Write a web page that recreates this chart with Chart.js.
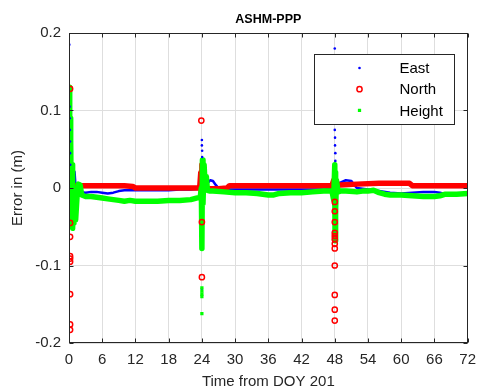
<!DOCTYPE html>
<html>
<head>
<meta charset="utf-8">
<script src="https://cdn.jsdelivr.net/npm/chart.js@4.4.1/dist/chart.umd.min.js"></script>
<style>
  html, body { margin: 0; background: #fff; }
  #wrap { width: 484px; height: 391px; }
</style>
</head>
<body>
<div id="wrap"><canvas id="c" width="484" height="391"></canvas></div>
<script>
// axis ticks
const xTicks = [0, 6, 12, 18, 24, 30, 36, 42, 48, 54, 60, 66, 72];
const yTicks = [-0.2, -0.1, 0, 0.1, 0.2];
const seriesNames = ['East', 'North', 'Height'];
const chartTitle = 'ASHM-PPP';

// [hour, error m] - dense epochs
const eastTrack = [
    [0.1, 0.005], [0.3, -0.01], [0.5, 0.01], [0.8, -0.005], [1.0, 0.021], [1.2, 0.0], [1.5, -0.003],
    [2, -0.005], [3, -0.006], [4, -0.005], [5, -0.005], [6, -0.006], [7, -0.007], [8, -0.006],
    [9, -0.004], [10, -0.003], [12, -0.003], [14, -0.003], [16, -0.003], [18, -0.003], [20, -0.002],
    [22, -0.002], [23.5, -0.001], [24, 0.0], [24.1, -0.02], [24.2, 0.01], [24.5, 0.0], [25, 0.006],
    [25.5, 0.01], [26, 0.009], [26.5, 0.004], [27, 0.0], [28, -0.002], [30, -0.002], [34, -0.002],
    [38, -0.002], [42, -0.002], [46, -0.002], [47.8, -0.001], [48, 0.0], [48.1, -0.02], [48.3, 0.005],
    [49, 0.007], [50, 0.01], [51, 0.009], [51.5, 0.004], [52, 0.0], [54, -0.002], [56, -0.004],
    [58, -0.006], [60, -0.007], [62, -0.006], [64, -0.005], [66, -0.005], [67, -0.006], [68, -0.008],
    [70, -0.008], [72, -0.008],
];
const northTrack = [
    [0.0, 0.0], [0.1, -0.03], [0.2, 0.01], [0.3, -0.02], [0.4, 0.005], [0.5, -0.035], [0.7, 0.0],
    [1.0, 0.003], [2, 0.003], [4, 0.003], [6, 0.003], [8, 0.003], [10, 0.003], [11.5, 0.002],
    [12, 0.0], [14, 0.0], [16, 0.0], [18, 0.0], [20, 0.0], [22, 0.0], [23.6, 0.0], [23.8, 0.02],
    [23.9, -0.011], [24, 0.03], [24.1, -0.005], [24.3, 0.0], [25, -0.001], [27, -0.001], [28.5, 0.0],
    [29, 0.003], [32, 0.003], [36, 0.003], [40, 0.003], [44, 0.003], [47.5, 0.003], [47.8, 0.01],
    [48, -0.02], [48.2, 0.01], [48.5, 0.004], [49, 0.004], [52, 0.005], [56, 0.006], [60, 0.006],
    [61.5, 0.006], [62, 0.003], [66, 0.003], [70, 0.003], [72, 0.003],
];
const heightTrack = [
    [0.05, 0.13], [0.1, 0.05], [0.15, 0.1], [0.2, -0.02], [0.25, 0.09], [0.3, -0.04], [0.35, 0.06],
    [0.45, -0.05], [0.55, 0.03], [0.65, -0.052], [0.8, -0.02], [0.9, -0.045], [1.0, -0.01],
    [1.2, -0.041], [1.5, -0.005], [1.7, 0.005], [2.0, 0.004], [2.3, -0.009], [3, -0.011], [4, -0.011],
    [5, -0.012], [6, -0.013], [7, -0.014], [8, -0.015], [9, -0.016], [10, -0.017], [11, -0.016],
    [12, -0.017], [14, -0.017], [16, -0.017], [18, -0.016], [20, -0.016], [22, -0.015], [23, -0.013],
    [23.7, -0.012], [23.9, 0.0], [24.0, -0.078], [24.1, 0.036], [24.2, -0.02], [24.4, 0.03],
    [24.6, 0.0], [24.8, 0.015], [25, -0.003], [25.5, -0.004], [26, -0.004], [28, -0.005],
    [30, -0.006], [32, -0.006], [34, -0.007], [35, -0.008], [36, -0.009], [37, -0.009], [38, -0.007],
    [40, -0.006], [42, -0.006], [44, -0.005], [46, -0.004], [47.5, -0.004], [47.8, -0.015],
    [48.0, 0.03], [48.05, -0.068], [48.1, 0.02], [48.2, -0.03], [48.3, 0.01], [48.6, -0.005],
    [49, -0.004], [50, -0.004], [52, -0.005], [53, -0.004], [54, -0.004], [55, -0.003], [56, -0.006],
    [57, -0.008], [58, -0.009], [60, -0.009], [62, -0.01], [64, -0.011], [66, -0.011], [67, -0.01],
    [68, -0.008], [70, -0.008], [72, -0.007],
];

// isolated outlier epochs
const eastSpikes = [
    [0.05, 0.185], [0.1, 0.105], [0.12, 0.09], [0.15, 0.075], [0.18, 0.06], [0.2, 0.045],
    [0.22, 0.03], [24.0, 0.062], [24.0, 0.055], [24.05, 0.048], [24.05, 0.04], [24.0, -0.13],
    [48.0, 0.18], [48.0, 0.088], [48.0, 0.075], [48.05, 0.065], [48.05, 0.055], [48.1, 0.045],
    [48.1, 0.035],
];
const northSpikes = [
    [0.2, 0.128], [0.2, -0.045], [0.2, -0.063], [0.2, -0.088], [0.2, -0.091], [0.2, -0.095],
    [0.2, -0.137], [0.2, -0.176], [0.2, -0.183], [23.9, 0.087], [24.0, -0.044], [24.0, -0.115],
    [48, -0.018], [48, -0.03], [48, -0.044], [48, -0.058], [48, -0.062], [48, -0.066], [48, -0.072],
    [48, -0.078], [48, -0.1], [48, -0.138], [48, -0.157], [48, -0.171],
];
const heightSpikes = [
    [24.0, -0.129], [24.0, -0.133], [24.0, -0.137], [24.0, -0.14], [24.0, -0.162],
];

const colors = { East: '#0000ff', North: '#ff0000', Height: '#00ff00' };
const toXY = arr => arr.map(([x, y]) => ({ x, y }));

const track = (data, color, width, order) => ({
    data: toXY(data),
    showLine: true,
    borderColor: color,
    borderWidth: width,
    borderJoinStyle: 'round',
    pointRadius: 0,
    order,
});

const spikes = (data, style, order) => ({
    data: toXY(data),
    showLine: false,
    order,
    ...style,
});

const markerStyle = {
    East:   { pointStyle: 'circle', pointRadius: 1.3, pointBorderWidth: 0, pointBackgroundColor: colors.East },
    North:  { pointStyle: 'circle', pointRadius: 2.6, pointBorderWidth: 1.5, pointBorderColor: colors.North, pointBackgroundColor: 'rgba(0,0,0,0)' },
    Height: { pointStyle: 'rect', pointRadius: 2.3, pointBorderWidth: 0, pointBackgroundColor: colors.Height },
};

const frame = {
    id: 'frame',
    afterDatasetsDraw(chart) {
        const { ctx, chartArea: a, scales: { x, y } } = chart;
        const L = Math.round(a.left) + 0.5, R = Math.round(a.right) - 0.5;
        const T = Math.round(a.top) + 0.5, B = Math.round(a.bottom) - 0.5;
        ctx.save();
        ctx.strokeStyle = '#262626';
        ctx.lineWidth = 1;
        ctx.strokeRect(L, T, R - L, B - T);
        ctx.beginPath();
        xTicks.forEach(v => {
            const px = Math.round(x.getPixelForValue(v)) + 0.5;
            ctx.moveTo(px, B); ctx.lineTo(px, B - 4);
            ctx.moveTo(px, T); ctx.lineTo(px, T + 4);
        });
        yTicks.forEach(v => {
            const py = Math.round(y.getPixelForValue(v)) + 0.5;
            ctx.moveTo(L, py); ctx.lineTo(L + 4, py);
            ctx.moveTo(R, py); ctx.lineTo(R - 4, py);
        });
        ctx.stroke();

        // title centred over the axes box
        ctx.font = 'bold 12.5px "Liberation Sans", Arial, sans-serif';
        ctx.textAlign = 'center';
        ctx.textBaseline = 'middle';
        ctx.fillStyle = '#000';
        ctx.fillText(chartTitle, (a.left + a.right) / 2, 20);
        ctx.restore();
    },
    afterDraw(chart) {
        const { ctx, chartArea: a } = chart;
        const bx = Math.round(a.left) + 245.5, by = Math.round(a.top) + 21.5;
        ctx.save();
        ctx.fillStyle = '#fff';
        ctx.fillRect(bx, by, 140, 70);
        ctx.strokeStyle = '#262626';
        ctx.lineWidth = 1;
        ctx.strokeRect(bx, by, 140, 70);
        ctx.font = '15px "Liberation Sans", Arial, sans-serif';
        ctx.textBaseline = 'middle';
        seriesNames.forEach((name, i) => {
            const cy = by + 13.5 + i * 21.2;
            const m = markerStyle[name];
            ctx.fillStyle = m.pointBackgroundColor;
            ctx.strokeStyle = m.pointBorderColor || m.pointBackgroundColor;
            ctx.lineWidth = m.pointBorderWidth;
            Chart.helpers.drawPoint(ctx, { pointStyle: m.pointStyle, radius: m.pointRadius, borderWidth: m.pointBorderWidth }, bx + 45, cy);
            ctx.fillStyle = '#000';
            ctx.fillText(name, bx + 85, cy + 1);
        });
        ctx.restore();
    },
};

const font = { family: '"Liberation Sans", Arial, sans-serif', size: 15 };

new Chart(document.getElementById('c'), {
    type: 'scatter',
    data: {
        datasets: [
            track(eastTrack, colors.East, 2.5, 6),
            track(northTrack, colors.North, 5.5, 5),
            track(heightTrack, colors.Height, 5.5, 4),
            spikes(eastSpikes, markerStyle.East, 3),
            spikes(heightSpikes, markerStyle.Height, 2),
            spikes(northSpikes, markerStyle.North, 1),
        ],
    },
    options: {
        responsive: false,
        animation: false,
        devicePixelRatio: 1,
        layout: { padding: { left: 0, right: 10, top: 33, bottom: 0 } },
        plugins: {
            legend: { display: false },
            tooltip: { enabled: false },
            title: { display: false },
        },
        scales: {
            x: {
                type: 'linear',
                min: 0,
                max: 72,
                afterBuildTicks: s => { s.ticks = xTicks.map(value => ({ value })); },
                afterFit: s => { s.height = 48; },
                ticks: { color: '#262626', font, padding: 8, maxRotation: 0, autoSkip: false, callback: v => String(v) },
                grid: { color: '#dedede', lineWidth: 1, drawTicks: false },
                border: { display: false },
                title: { display: true, text: 'Time from DOY 201', color: '#262626', font, padding: { top: 2, bottom: 0 } },
            },
            y: {
                type: 'linear',
                min: -0.2,
                max: 0.2,
                afterBuildTicks: s => { s.ticks = yTicks.map(value => ({ value })); },
                afterFit: s => { s.width = 69; },
                ticks: { color: '#262626', font, padding: 8, callback: v => String(Number(v.toFixed(1))) },
                grid: { color: '#dedede', lineWidth: 1, drawTicks: false },
                border: { display: false },
                title: { display: true, text: 'Error in (m)', color: '#262626', font, padding: { top: 9, bottom: 0 } },
            },
        },
    },
    plugins: [frame],
});
</script>
</body>
</html>
